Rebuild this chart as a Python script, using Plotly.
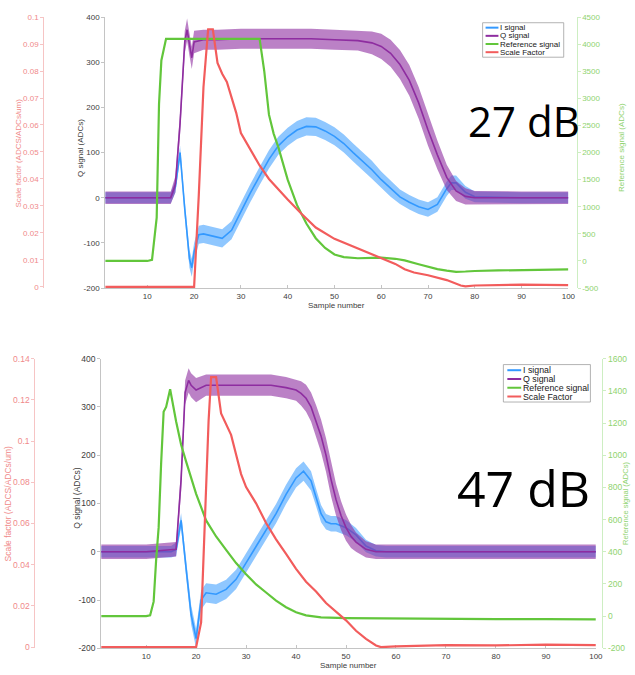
import plotly.graph_objects as go

W, H = 635, 675

# ================= DATA =================
# ---- Top panel (27 dB) ----
top_i_x = [1, 10, 15, 16, 17, 18, 19, 19.5, 20, 21, 22, 24, 26, 28, 30, 32, 34, 36, 38, 40,
           42, 44, 46, 48, 50, 52, 54, 56, 58, 60, 62, 64, 66, 68, 70, 72, 74, 75, 76, 78, 80, 90, 100]
top_i = [0, 0, 0, 25, 100, -25, -135, -155, -120, -82, -80, -85, -90, -72, -30, 10, 48, 85, 115, 135,
         150, 158, 157, 148, 136, 120, 100, 82, 62, 40, 20, 2, -10, -20, -26, -15, 20, 33, 33, 12, 2, 0, 0]
top_i_spread = [12, 12, 12, 14, 15, 18, 20, 20, 20, 20, 20, 20, 20, 20, 20, 20, 20, 20, 20, 20,
                20, 20, 20, 20, 20, 20, 20, 20, 20, 18, 18, 16, 16, 16, 16, 16, 16, 16, 16, 14, 12, 12, 12]

top_q_x = [1, 10, 15, 16, 17, 18, 18.5, 19, 19.5, 20, 22, 25, 30, 35, 40, 45, 50, 55, 58, 60,
           62, 64, 66, 68, 70, 72, 74, 76, 78, 80, 90, 100]
top_q = [0, 0, 0, 30, 165, 345, 372, 340, 310, 345, 350, 350, 352, 352, 352, 352, 350, 348, 343, 335,
         320, 295, 260, 210, 150, 95, 45, 15, 3, 0, 0, 0]
top_q_spread = [14, 14, 14, 18, 25, 25, 25, 25, 25, 25, 22, 22, 22, 22, 22, 22, 22, 22, 25, 28,
                30, 32, 34, 35, 35, 32, 28, 22, 18, 15, 14, 14]

top_ref_x = [1, 10, 11, 12, 12.5, 13, 14, 34, 35, 36, 37, 38, 40, 42, 44, 46, 48, 50, 52, 55,
             58, 60, 63, 65, 68, 70, 72, 74, 76, 78, 80, 85, 90, 95, 100]
top_ref = [0, 0, 20, 800, 2900, 3700, 4100, 4100, 3500, 2700, 2350, 2100, 1500, 1030, 690, 420, 240, 120, 70, 50,
           55, 60, 40, 10, -60, -110, -150, -180, -200, -195, -185, -175, -165, -160, -155]

top_sf_x = [1, 20, 21, 22, 23, 24, 25, 26, 27, 28, 29, 30, 32, 34, 36, 38, 40, 43, 46, 50,
            55, 60, 63, 65, 67, 70, 74, 77, 78, 80, 90, 100]
top_sf = [0, 0, 0.034, 0.074, 0.0955, 0.0955, 0.083, 0.079, 0.076, 0.0705, 0.0645, 0.057, 0.051, 0.045,
          0.040, 0.036, 0.0324, 0.027, 0.022, 0.0178, 0.0142, 0.0105, 0.0085, 0.0065, 0.0053, 0.0043,
          0.0025, 0.0005, 0.0002, 0.0005, 0.0008, 0.0006]

# ---- Bottom panel (47 dB) ----
bot_i_x = [1, 10, 15, 16, 17, 18, 19, 20, 21, 22, 24, 26, 28, 30, 32, 34, 36, 38, 40, 41.5,
           43, 44, 45, 46, 47, 48, 50, 52, 54, 56, 58, 70, 100]
bot_i = [0, 0, 0, 5, 65, -35, -130, -180, -100, -85, -88, -78, -57, -23, 11, 45, 79, 119, 153, 167,
         147, 113, 79, 62, 58, 58, 50, 35, 12, 2, 0, 0, 0]
bot_i_spread = [12, 12, 12, 14, 15, 18, 20, 20, 20, 20, 20, 20, 20, 20, 20, 20, 20, 20, 20, 20,
                20, 18, 18, 16, 16, 16, 16, 14, 13, 12, 12, 12, 12]

bot_q_x = [1, 10, 16, 17, 17.8, 18.5, 19, 20, 22, 25, 30, 35, 38, 40, 41, 42, 43, 44, 45, 46,
           47, 48, 49, 50, 51, 52, 54, 56, 70, 100]
bot_q = [0, 0, 5, 150, 330, 355, 345, 335, 345, 345, 345, 345, 340, 335, 328, 318, 300, 272, 240, 200,
         150, 108, 75, 50, 32, 20, 5, 0, 0, 0]
bot_q_spread = [15, 15, 15, 25, 25, 25, 25, 25, 22, 22, 22, 22, 22, 22, 25, 28, 30, 32, 34, 35,
                35, 33, 30, 27, 24, 20, 17, 15, 15, 15]

bot_ref_x = [1, 10, 10.8, 11.5, 12, 12.5, 13, 13.5, 14, 14.8, 16, 17, 18, 20, 22, 24, 26, 28, 30, 32,
             34, 36, 38, 40, 42, 45, 50, 60, 70, 80, 90, 100]
bot_ref = [0, 0, 5, 90, 350, 550, 950, 1270, 1300, 1410, 1210, 1065, 960, 760, 595, 495, 412, 330, 260, 197,
           147, 96, 55, 24, 5, -8, -12, -15, -15, -18, -18, -20]

bot_sf_x = [1, 20, 21, 22, 22.5, 23, 24, 25, 26, 27, 28, 29, 30, 32, 34, 36, 38, 40, 42, 44,
            46, 48, 50, 52, 54, 56, 57, 60, 70, 80, 90, 100]
bot_sf = [0, 0, 0.012, 0.072, 0.11, 0.131, 0.131, 0.1134, 0.108, 0.103, 0.0935, 0.084, 0.0777, 0.0698,
          0.0602, 0.0523, 0.0452, 0.038, 0.0317, 0.027, 0.0214, 0.0174, 0.013, 0.0079, 0.004, 0.0008,
          0, 0.0003, 0.001, 0.0008, 0.0012, 0.001]

# ---- Ticks ----
x_ticks = [10, 20, 30, 40, 50, 60, 70, 80, 90, 100]
q_ticks = [-200, -100, 0, 100, 200, 300, 400]
top_ref_ticks = [-500, 0, 500, 1000, 1500, 2000, 2500, 3000, 3500, 4000, 4500]
top_sf_ticks = [0, 0.01, 0.02, 0.03, 0.04, 0.05, 0.06, 0.07, 0.08, 0.09, 0.1]
top_sf_labels = ["0", "0.01", "0.02", "0.03", "0.04", "0.05", "0.06", "0.07", "0.08", "0.09", "0.1"]
bot_ref_ticks = [-200, 0, 200, 400, 600, 800, 1000, 1200, 1400, 1600]
bot_sf_ticks = [0, 0.02, 0.04, 0.06, 0.08, 0.1, 0.12, 0.14]
bot_sf_labels = ["0", "0.02", "0.04", "0.06", "0.08", "0.1", "0.12", "0.14"]

legend_names = ["I signal", "Q signal", "Reference signal", "Scale Factor"]

# ================= STYLE =================
C_I = "#3399ff"
C_Q = "#8e2da0"
C_REF = "#62c63b"
C_SF = "#f25c5c"
F_I = "rgba(51,153,255,0.55)"
F_Q = "rgba(142,45,160,0.6)"
AX_GRAY = "#c4c4c4"
TXT = "#404040"
SF_TXT = "#f08a8a"
SF_LINE = "#f6c4c4"
REF_TXT = "#8fd36f"
REF_LINE = "#cdeec2"
FONT = "Liberation Sans, Arial, sans-serif"


def px(x):
    return x / W


def py(y):
    return 1 - y / H


def fmt(v):
    return str(v)


fig = go.Figure()


def band(x, m, s, color, fill, xa, ya):
    lo = [a - b for a, b in zip(m, s)]
    hi = [a + b for a, b in zip(m, s)]
    fig.add_trace(go.Scatter(x=x, y=lo, mode="lines", line=dict(width=0, color=color),
                             xaxis=xa, yaxis=ya, showlegend=False, hoverinfo="skip"))
    fig.add_trace(go.Scatter(x=x, y=hi, mode="lines", line=dict(width=0, color=color),
                             fill="tonexty", fillcolor=fill,
                             xaxis=xa, yaxis=ya, showlegend=False, hoverinfo="skip"))
    fig.add_trace(go.Scatter(x=x, y=m, mode="lines", line=dict(width=1.6, color=color),
                             xaxis=xa, yaxis=ya, showlegend=False))


# top panel
band(top_i_x, top_i, top_i_spread, C_I, F_I, "x", "y")
band(top_q_x, top_q, top_q_spread, C_Q, F_Q, "x", "y")
fig.add_trace(go.Scatter(x=top_ref_x, y=top_ref, mode="lines", line=dict(color=C_REF, width=2.2),
                         xaxis="x", yaxis="y2", showlegend=False))
fig.add_trace(go.Scatter(x=top_sf_x, y=top_sf, mode="lines", line=dict(color=C_SF, width=2.2),
                         xaxis="x", yaxis="y3", showlegend=False))
# bottom panel
band(bot_i_x, bot_i, bot_i_spread, C_I, F_I, "x2", "y4")
band(bot_q_x, bot_q, bot_q_spread, C_Q, F_Q, "x2", "y4")
fig.add_trace(go.Scatter(x=bot_ref_x, y=bot_ref, mode="lines", line=dict(color=C_REF, width=2.2),
                         xaxis="x2", yaxis="y5", showlegend=False))
fig.add_trace(go.Scatter(x=bot_sf_x, y=bot_sf, mode="lines", line=dict(color=C_SF, width=2.2),
                         xaxis="x2", yaxis="y6", showlegend=False))


def xax(domain, anchor, fs):
    return dict(domain=domain, anchor=anchor, range=[1, 100], tickvals=x_ticks,
                ticktext=[fmt(v) for v in x_ticks],
                showline=True, linecolor=AX_GRAY, linewidth=1, ticks="inside", ticklen=3,
                tickcolor=AX_GRAY, tickfont=dict(size=fs, color=TXT, family=FONT),
                showgrid=False, zeroline=False, layer="below traces")


def qax(domain, anchor, fs):
    return dict(domain=domain, anchor=anchor, range=[-200, 400], tickvals=q_ticks,
                ticktext=[fmt(v) for v in q_ticks],
                showline=True, linecolor=AX_GRAY, linewidth=1, ticks="outside", ticklen=3,
                tickcolor=AX_GRAY, tickfont=dict(size=fs, color=TXT, family=FONT),
                showgrid=False, zeroline=False, layer="below traces")


def refax(over, pos, rng, ticks, fs):
    return dict(overlaying=over, side="right", anchor="free", position=pos, range=rng,
                tickvals=ticks, ticktext=[fmt(v) for v in ticks],
                showline=True, linecolor=REF_LINE, linewidth=1, ticks="outside", ticklen=3,
                tickcolor=REF_LINE, tickfont=dict(size=fs, color=REF_TXT, family=FONT),
                showgrid=False, zeroline=False)


def sfax(over, pos, rng, ticks, labels, fs):
    return dict(overlaying=over, side="left", anchor="free", position=pos, range=rng,
                tickvals=ticks, ticktext=labels,
                showline=True, linecolor=SF_LINE, linewidth=1, ticks="outside", ticklen=3,
                tickcolor=SF_LINE, tickfont=dict(size=fs, color=SF_TXT, family=FONT),
                showgrid=False, zeroline=False)


top_x0, top_x1, top_y0, top_y1 = 106.4, 574.7, 12.3, 287.3
bot_x0, bot_x1, bot_y0, bot_y1 = 102.3, 602.5, 359.0, 653.0

fig.update_layout(
    width=W, height=H, margin=dict(l=0, r=0, t=0, b=0),
    paper_bgcolor="white", plot_bgcolor="rgba(0,0,0,0)",
    showlegend=False,
    font=dict(family=FONT),
    xaxis=xax([px(top_x0), px(top_x1)], "y", 8),
    yaxis=qax([py(top_y1), py(top_y0)], "x", 8),
    yaxis2=refax("y", px(583), [-500, 4500], top_ref_ticks, 8),
    yaxis3=sfax("y", px(43.7), [-0.00045, 0.1], top_sf_ticks, top_sf_labels, 8),
    xaxis2=xax([px(bot_x0), px(bot_x1)], "y4", 8),
    yaxis4=qax([py(bot_y1), py(bot_y0)], "x2", 8.5),
    yaxis5=refax("y4", px(609), [-200, 1600], bot_ref_ticks, 8.5),
    yaxis6=sfax("y4", px(34.7), [-0.0006, 0.14], bot_sf_ticks, bot_sf_labels, 8.5),
)

ann = []
shapes = []


def text(x, y, s, size, color, angle=0, xanchor="center", yanchor="middle", family=FONT):
    ann.append(dict(x=px(x), y=py(y), xref="paper", yref="paper", text=s, showarrow=False,
                    textangle=angle, xanchor=xanchor, yanchor=yanchor, borderpad=0,
                    font=dict(size=size, color=color, family=family)))


# axis titles
text(82, 145, "Q signal (ADCs)", 8, TXT, -90)
text(19, 150, "Scale factor (ADCS/ADCs/um)", 8, SF_TXT, -90)
text(629, 145, "Reference signal (ADCs)", 8, REF_TXT, -90)
text(340.5, 299, "Sample number", 8, TXT, yanchor="top")

text(77, 500, "Q signal (ADCs)", 8.5, TXT, -90)
text(8, 506, "Scale factor (ADCS/ADCs/um)", 8.5, SF_TXT, -90)
text(632.5, 506, "Reference signal (ADCs)", 7.5, REF_TXT, -90)
text(352, 676, "Sample number", 8, TXT, yanchor="bottom")

# big labels
text(530, 117, "27 dB", 42, "black", family="Open Sans, sans-serif")
text(529, 490, "47 dB", 50, "black", family="Open Sans, sans-serif")

# manual legends
colors = [C_I, C_Q, C_REF, C_SF]


def legend(x0, x1, y0, y1, rows, lx0, lx1, tx, fs):
    shapes.append(dict(type="rect", xref="paper", yref="paper", x0=px(x0), x1=px(x1),
                       y0=py(y1), y1=py(y0), line=dict(color="#a0a0a0", width=0.8),
                       fillcolor="white", layer="above"))
    for ry, c, n in zip(rows, colors, legend_names):
        shapes.append(dict(type="line", xref="paper", yref="paper", x0=px(lx0), x1=px(lx1),
                           y0=py(ry), y1=py(ry), line=dict(color=c, width=2), layer="above"))
        text(tx, ry, n, fs, "#202020", xanchor="left")


legend(488, 570, 18, 53, [23, 31.3, 39.6, 47.9], 491, 504, 505, 8)
legend(509, 597, 365, 403, [370.7, 379.6, 388.5, 397.4], 513, 527, 527.5, 8.8)

fig.update_layout(annotations=ann, shapes=shapes)

fig.write_html("out.html")
